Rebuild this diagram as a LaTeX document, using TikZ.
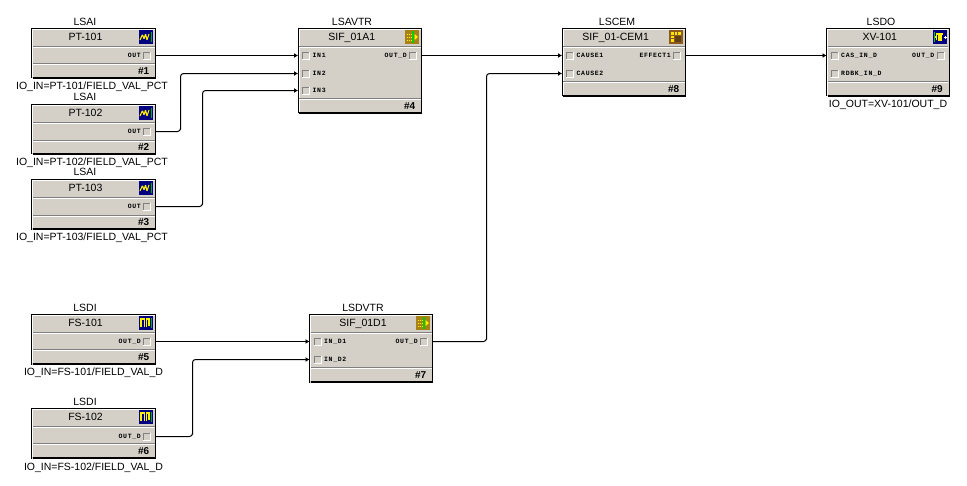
\documentclass[tikz,border=0pt]{standalone}
\usepackage{fontspec}
\setmainfont{Liberation Sans}
\newfontfamily\pinfont[LetterSpace=10]{Liberation Mono}
\usetikzlibrary{arrows.meta,calc}
\definecolor{panel}{HTML}{D4D0C8}
\definecolor{groove}{HTML}{808080}
\definecolor{iconblue}{HTML}{000080}
\definecolor{iconbrown}{HTML}{8A5A1E}
\definecolor{votegreen}{HTML}{00D000}
\tikzset{
  x=1pt,y=-1pt,
  blocktext/.style={font=\fontsize{10.5}{10.5}\selectfont,inner sep=0pt,anchor=base},
  caption/.style={font=\fontsize{10.5}{10.5}\selectfont,inner sep=0pt,anchor=base},
  portlabel/.style={font=\fontsize{6.5}{6.5}\selectfont\pinfont\bfseries,inner sep=0pt},
  portbox/.style={minimum size=7pt,inner sep=0pt,fill=panel,draw=groove,line width=.8pt},
  wire/.style={line width=1pt,rounded corners=3pt,-{Latex[length=4pt,width=5pt]}},
}
% Faceplate with title band, body band and number band
\newcommand{\fblock}[9]{% name, x1, y1, x2, y2, sep1, sep2, title, number
  \fill[panel] (#2,#3) rectangle (#4,#5);
  \draw[black,line width=1pt] (#2,#5) -- (#2,#3) -- (#4,#3) -- (#4,#5);
  \draw[black,line width=2pt] (#2+1,#5-.5) -- (#4+.5,#5-.5);
  \draw[white,line width=.8pt] (#2+1,#5-1.5) -- (#2+1,#3+1) -- (#4-1,#3+1);
  \foreach \s in {#6,#7} {
    \draw[groove,line width=1pt] (#2+1,\s) -- (#4-1,\s);
    \draw[white,line width=1pt] (#2+1,\s+1) -- (#4-1,\s+1);
  }
  \node[inner sep=0pt,minimum width=#4pt-#2pt,minimum height=#5pt-#3pt] (#1) at ({(#2+#4)/2},{(#3+#5)/2}) {};
  \node[blocktext] (#1title) at ({(#2+#4)/2-8},#3+11.5) {#8};
  \node[blocktext,anchor=base east,font=\fontsize{10}{10}\selectfont] (#1num) at (#4-6,#5-4) {\bfseries #9};
}
\newcommand{\toplabel}[4]{\node[caption] (#1) at (#2,#3) {#4};}
% Raised pin square: dark on the upper left, white on the lower right
\newcommand{\pinbevel}[1]{
  \draw[white,line width=.9pt] (#1.south west) -- (#1.south east) -- (#1.north east);
}
% Output pin: label, square and the point where a wire leaves the faceplate
\newcommand{\outpin}[4]{% name, block right, y, label
  \node[portbox] (#1box) at (#2-8.5,#3) {};
  \pinbevel{#1box}
  \node[portlabel,anchor=east] (#1lab) at (#2-14.5,#3) {#4};
  \coordinate (#1) at (#2,#3);
}
\newcommand{\inpin}[4]{% name, block left, y, label
  \node[portbox] (#1box) at (#2+8,#3) {};
  \pinbevel{#1box}
  \node[portlabel,anchor=west] (#1lab) at (#2+14.5,#3) {#4};
  \coordinate (#1) at (#2,#3);
}
% Function block icons, 14 units square with top-left corner at (x,y)
\newcommand{\iconwave}[2]{
  \fill[iconblue] (#1,#2) rectangle ++(14,14);
  \draw[yellow,line width=1.1pt,rounded corners=.8pt] (#1+1,#2+10) -- ++(2.5,-5.5) -- ++(1.5,4.5) -- ++(1.5,-5) -- ++(1.5,6) -- ++(2,-6);
  \draw[green!70!black,line width=1pt] (#1+12.5,#2+2) -- (#1+12.5,#2+12);
}
\newcommand{\icondigital}[2]{
  \fill[iconblue] (#1,#2) rectangle ++(14,14);
  \draw[yellow,line width=1.2pt] (#1+2,#2+11) -- ++(0,-8) -- ++(3.5,0) -- ++(0,8) (#1+7.5,#2+11) -- ++(0,-8) -- ++(2.5,0) -- ++(0,7);
  \draw[green!70!black,line width=1pt] (#1+12.5,#2+2) -- (#1+12.5,#2+12);
}
\newcommand{\iconvote}[2]{
  \fill[iconbrown!75!yellow] (#1,#2) rectangle ++(14,14);
  \draw[yellow,line width=1pt,dash pattern=on 1pt off 1pt] (#1+1.5,#2+4) -- ++(5,0) (#1+1.5,#2+7) -- ++(5,0) (#1+1.5,#2+10) -- ++(5,0);
  \fill[votegreen] (#1+7,#2+1) rectangle ++(2,12);
  \fill[yellow] (#1+9.5,#2+4) -- ++(3.5,3) -- ++(-3.5,3) -- cycle;
}
\newcommand{\iconmatrix}[2]{
  \fill[iconbrown] (#1,#2) rectangle ++(14,14);
  \foreach \i in {0,1,2} \foreach \j in {0,1,2}
    \fill[yellow!85!orange] (#1+2+\i*3.6,#2+2+\j*3.6) rectangle ++(2.6,2.6);
  \fill[iconbrown!70!black] (#1+5.6,#2+5.6) rectangle ++(6.2,6.2);
}
\newcommand{\icondo}[2]{
  \fill[iconblue] (#1,#2) rectangle ++(14,14);
  \draw[green!80!black,line width=1pt] (#1+1.5,#2+2) -- ++(0,10);
  \draw[yellow,line width=1.1pt] (#1+2,#2+7) -- ++(1.5,0) -- ++(0,3) -- ++(0,-6) -- ++(2.5,0) -- ++(0,6) -- ++(2,0) -- ++(0,-6) -- ++(1.5,0);
  \draw[white,line width=.9pt] (#1+10.5,#2+7) -- ++(3,0) (#1+12,#2+5.5) -- ++(0,3);
}
\begin{document}
\begin{tikzpicture}
\useasboundingbox (0,0) rectangle (967,485);
\fill[white] (0,0) rectangle (967,485);

% Analog inputs
\toplabel{t1}{85}{25}{LSAI}
\fblock{b1}{31.5}{28.5}{155.5}{78}{46.5}{63.5}{PT-101}{\#1}
\iconwave{139}{30}
\outpin{b1o}{155.5}{55.5}{OUT}
\node[caption] (c1) at (92,89) {IO\_IN=PT-101/FIELD\_VAL\_PCT};

\toplabel{t2}{85}{100}{LSAI}
\fblock{b2}{31.5}{104.5}{155.5}{154}{122.5}{140.5}{PT-102}{\#2}
\iconwave{139}{106}
\outpin{b2o}{155.5}{131.5}{OUT}
\node[caption] (c2) at (92,165) {IO\_IN=PT-102/FIELD\_VAL\_PCT};

\toplabel{t3}{85}{175}{LSAI}
\fblock{b3}{31.5}{179.5}{155.5}{229.5}{197.5}{215.5}{PT-103}{\#3}
\iconwave{139}{181}
\outpin{b3o}{155.5}{206.5}{OUT}
\node[caption] (c3) at (92,240) {IO\_IN=PT-103/FIELD\_VAL\_PCT};

% Analog voter
\toplabel{t4}{352}{25}{LSAVTR}
\fblock{b4}{298}{28.5}{421.5}{113}{46.5}{98.5}{SIF\_01A1}{\#4}
\iconvote{405}{30}
\inpin{b4a}{298}{55.5}{IN1}
\inpin{b4b}{298}{73.5}{IN2}
\inpin{b4c}{298}{90.5}{IN3}
\outpin{b4o}{421.5}{55.5}{OUT\_D}

% Cause and effect matrix
\toplabel{t8}{617}{25}{LSCEM}
\fblock{b8}{562}{28.5}{685.5}{96}{46.5}{81.5}{SIF\_01-CEM1}{\#8}
\iconmatrix{669}{30}
\inpin{b8a}{562}{55.5}{CAUSE1}
\inpin{b8b}{562}{73.5}{CAUSE2}
\outpin{b8o}{685.5}{55.5}{EFFECT1}

% Discrete output
\toplabel{t9}{881}{25}{LSDO}
\fblock{b9}{826.5}{28.5}{949}{96}{46.5}{81.5}{XV-101}{\#9}
\icondo{933}{30}
\inpin{b9a}{826.5}{55.5}{CAS\_IN\_D}
\inpin{b9b}{826.5}{73.5}{RDBK\_IN\_D}
\outpin{b9o}{949}{55.5}{OUT\_D}
\node[caption] (c9) at (888,107) {IO\_OUT=XV-101/OUT\_D};

% Discrete inputs
\toplabel{t5}{85}{311}{LSDI}
\fblock{b5}{31.5}{314.5}{155.5}{364.5}{332.5}{349.5}{FS-101}{\#5}
\icondigital{139}{316}
\outpin{b5o}{155.5}{341.5}{OUT\_D}
\node[caption] (c5) at (93.5,375) {IO\_IN=FS-101/FIELD\_VAL\_D};

\toplabel{t6}{85}{405}{LSDI}
\fblock{b6}{31.5}{408.5}{155.5}{458.5}{426.5}{443.5}{FS-102}{\#6}
\icondigital{139}{410}
\outpin{b6o}{155.5}{436.5}{OUT\_D}
\node[caption] (c6) at (93.5,470) {IO\_IN=FS-102/FIELD\_VAL\_D};

% Discrete voter
\toplabel{t7}{363}{311}{LSDVTR}
\fblock{b7}{309.5}{314.5}{432.5}{382.5}{332.5}{367.5}{SIF\_01D1}{\#7}
\iconvote{416}{316}
\inpin{b7a}{309.5}{341.5}{IN\_D1}
\inpin{b7b}{309.5}{359.5}{IN\_D2}
\outpin{b7o}{432.5}{341.5}{OUT\_D}

% Signal wiring
\draw[wire] (b1o) -- (b4a);
\draw[wire] (b2o) -| ($(b2o)+(25,0)$) |- (b4b);
\draw[wire] (b3o) -| ($(b3o)+(47,0)$) |- (b4c);
\draw[wire] (b4o) -- (b8a);
\draw[wire] (b7o) -| ($(b7o)+(54,0)$) |- (b8b);
\draw[wire] (b5o) -- (b7a);
\draw[wire] (b6o) -| ($(b6o)+(37,0)$) |- (b7b);
\draw[wire] (b8o) -- (b9a);
\end{tikzpicture}
\end{document}
